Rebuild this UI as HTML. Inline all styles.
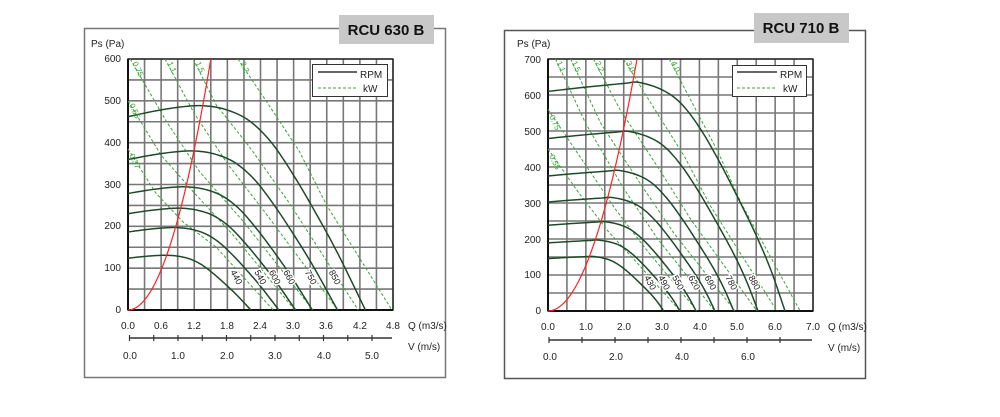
<!DOCTYPE html>
<html><head><meta charset="utf-8"><style>
html,body{margin:0;padding:0;background:#fff;}
svg{display:block;font-family:"Liberation Sans",sans-serif;}
</style></head><body>
<svg id="s" width="1000" height="417" viewBox="0 0 1000 417" xmlns="http://www.w3.org/2000/svg">
<rect width="1000" height="417" fill="#fff"/>
<rect x="84.5" y="28.5" width="361" height="349" fill="none" stroke="#777" stroke-width="1.5"/>
<rect x="339" y="15" width="95" height="29" fill="#c8c8c8"/>
<text x="386" y="35" font-size="15" font-weight="bold" text-anchor="middle" fill="#111">RCU 630 B</text>
<rect x="504.5" y="30.5" width="361" height="348" fill="none" stroke="#555" stroke-width="1.5"/>
<rect x="754" y="13" width="95" height="30" fill="#c8c8c8"/>
<text x="801" y="33" font-size="15" font-weight="bold" text-anchor="middle" fill="#111">RCU 710 B</text>
<g id="g1"></g>
<g id="g2"></g>
<g font-size="10" fill="#222">
<text x="91" y="47">Ps (Pa)</text>
<g text-anchor="end">
<text x="121" y="62">600</text><text x="121" y="104">500</text><text x="121" y="146">400</text>
<text x="121" y="188">300</text><text x="121" y="229">200</text><text x="121" y="271">100</text><text x="121" y="313">0</text>
</g>
<g text-anchor="middle">
<text x="128" y="329">0.0</text><text x="161" y="329">0.6</text><text x="194" y="329">1.2</text><text x="227" y="329">1.8</text>
<text x="260" y="329">2.4</text><text x="293" y="329">3.0</text><text x="326" y="329">3.6</text><text x="360" y="329">4.2</text><text x="393" y="329">4.8</text>
<text x="130" y="359">0.0</text><text x="178" y="359">1.0</text><text x="227" y="359">2.0</text><text x="275" y="359">3.0</text><text x="324" y="359">4.0</text><text x="372" y="359">5.0</text>
</g>
<text x="408" y="329">Q (m3/s)</text>
<text x="408" y="350">V (m/s)</text>
<text x="517" y="47">Ps (Pa)</text>
<g text-anchor="end">
<text x="541" y="63">700</text><text x="541" y="99">600</text><text x="541" y="135">500</text><text x="541" y="171">400</text>
<text x="541" y="207">300</text><text x="541" y="243">200</text><text x="541" y="278">100</text><text x="541" y="314">0</text>
</g>
<g text-anchor="middle">
<text x="548" y="330">0.0</text><text x="586" y="330">1.0</text><text x="624" y="330">2.0</text><text x="662" y="330">3.0</text>
<text x="700" y="330">4.0</text><text x="737" y="330">5.0</text><text x="775" y="330">6.0</text><text x="813" y="330">7.0</text>
<text x="550" y="360">0.0</text><text x="616" y="360">2.0</text><text x="682" y="360">4.0</text><text x="748" y="360">6.0</text>
</g>
<text x="828" y="330">Q (m3/s)</text>
<text x="828" y="351">V (m/s)</text>
</g>
<rect x="312.5" y="64.5" width="75" height="32" fill="#fff" stroke="#333"/>
<line x1="318" y1="72" x2="357" y2="72" stroke="#333" stroke-width="1.5"/>
<line x1="318" y1="88" x2="357" y2="88" stroke="#3a3" stroke-width="1" stroke-dasharray="3,2"/>
<text x="360" y="78" font-size="10" fill="#222">RPM</text><text x="363" y="92" font-size="10" fill="#222">kW</text>
<rect x="732.5" y="65.5" width="74" height="31" fill="#fff" stroke="#333"/>
<line x1="737" y1="72" x2="777" y2="72" stroke="#333" stroke-width="1.5"/>
<line x1="737" y1="88" x2="777" y2="88" stroke="#3a3" stroke-width="1" stroke-dasharray="3,2"/>
<text x="780" y="78" font-size="10" fill="#222">RPM</text><text x="783" y="92" font-size="10" fill="#222">kW</text>
</svg>
<script>
var NS="http://www.w3.org/2000/svg";
function el(g,t,a){var e=document.createElementNS(NS,t);for(var k in a)e.setAttribute(k,a[k]);g.appendChild(e);return e;}
function cr(pts,n){var out=[];for(var i=0;i<pts.length-1;i++){var p0=pts[Math.max(0,i-1)],p1=pts[i],p2=pts[i+1],p3=pts[Math.min(pts.length-1,i+2)];for(var t=0;t<n;t++){var s=t/n,s2=s*s,s3=s2*s;var f=function(a,b,c,d){return 0.5*((2*b)+(-a+c)*s+(2*a-5*b+4*c-d)*s2+(-a+3*b-3*c+d)*s3);};out.push([f(p0[0],p1[0],p2[0],p3[0]),f(p0[1],p1[1],p2[1],p3[1])]);}}out.push(pts[pts.length-1]);return out;}
function chart(g,C){
 var X=function(q){return C.x0+(q/C.qmax)*(C.x1-C.x0)};
 var Y=function(p){return C.y0-(p/C.pmax)*(C.y0-C.y1)};
 for(var q=0;q<=C.qmax+1e-9;q+=C.qstep){el(g,'line',{x1:X(q),y1:C.y1,x2:X(q),y2:C.y0,stroke:'#777','stroke-width':1.6});}
 for(var p=0;p<=C.pmax;p+=50){el(g,'line',{x1:C.x0,y1:Y(p),x2:C.x1,y2:Y(p),stroke:'#777','stroke-width':1.6});}
 el(g,'rect',{x:C.x0,y:C.y1,width:C.x1-C.x0,height:C.y0-C.y1,fill:'none',stroke:'#222','stroke-width':1.4});
 el(g,'line',{x1:C.x0,y1:C.y0,x2:C.x1,y2:C.y0,stroke:'#111','stroke-width':2});
 el(g,'line',{x1:C.x0,y1:C.y0,x2:C.x0,y2:C.y1,stroke:'#111','stroke-width':2});
 C.kw.forEach(function(k){var pts=k.map(function(a){return X(a[0])+','+Y(a[1])}).join(' ');el(g,'polyline',{points:pts,fill:'none',stroke:'#3aa33a','stroke-width':1,'stroke-dasharray':'3,2'});});
 C.rpm.forEach(function(n){var r=n/C.nb;var pts=cr(C.base.map(function(a){return [a[0]*r,a[1]*r*r]}),8);
  el(g,'polyline',{points:pts.map(function(a){return X(a[0])+','+Y(a[1])}).join(' '),fill:'none',stroke:'#1f4a2a','stroke-width':1.5});
  var qe=C.base[C.base.length-1][0]*r; var lx=X(qe*0.86), ly=Y(75);
  var t=el(g,'text',{x:lx,y:ly,'font-size':9,fill:'#222','text-anchor':'middle',transform:'rotate(62 '+lx+' '+ly+')',stroke:'#fff','stroke-width':3,'paint-order':'stroke'});t.textContent=n;
 });
 var rp=[];for(var i=0;i<=40;i++){var q=C.rq*i/40;rp.push(X(q)+','+Y(C.pmax*(q/C.rq)*(q/C.rq)));}
 el(g,'polyline',{points:rp.join(' '),fill:'none',stroke:'#f22','stroke-width':1.2});
 el(g,'line',{x1:C.vx0,y1:C.vy,x2:C.vx1,y2:C.vy,stroke:'#333','stroke-width':1.5});
 for(var v=0;v<=C.vmax+1e-9;v+=C.vstep){var xx=C.vx0+v*C.vpx;el(g,'line',{x1:xx,y1:C.vy-3,x2:xx,y2:C.vy+3,stroke:'#333','stroke-width':1.2});}
 C.kl.forEach(function(l){var t=el(g,'text',{x:X(l[1]),y:Y(l[2]),'font-size':8,fill:'#3a3',transform:'rotate(65 '+X(l[1])+' '+Y(l[2])+')'});t.textContent=l[0];});
}
chart(document.getElementById('g1'),{x0:128,x1:393,y0:310,y1:59,qmax:4.8,pmax:600,qstep:0.3,nb:850,
 base:[[0,462],[0.5,476],[1.0,486],[1.4,488],[1.8,478],[2.2,452],[2.6,400],[3.0,322],[3.4,232],[3.8,135],[4.3,0]],
 rpm:[440,540,600,660,750,850],rq:1.5,
 kw:[[[0,385],[0.5,280],[1.0,210],[1.6,150],[2.63,0]],[[0,500],[0.6,370],[1.2,280],[1.9,180],[3.02,0]],[[0.04,600],[0.7,450],[1.3,330],[2.1,210],[3.35,0]],[[0.67,600],[1.2,470],[1.8,350],[2.5,230],[3.8,0]],[[1.18,600],[1.6,490],[2.2,390],[2.9,260],[4.17,0]],[[1.99,600],[2.5,500],[3.1,380],[3.6,250],[4.78,0]]],
 kl:[['0.37',0.02,370],['0.55',0.02,490],['0.75',0.08,590],['1.1',0.71,590],['1.5',1.22,590],['2.2',2.03,590]],
 vx0:129.5,vx1:392,vy:338,vpx:48.5,vstep:0.5,vmax:5.4});
chart(document.getElementById('g2'),{x0:548,x1:813,y0:311,y1:59,qmax:7,pmax:700,qstep:0.5,nb:880,
 base:[[0,610],[1,622],[2,632],[2.4,635],[3,615],[3.5,578],[4,510],[4.5,420],[5,318],[5.5,210],[5.9,110],[6.26,0]],
 rpm:[430,490,550,620,690,780,880],rq:2.35,
 kw:[[[0,450],[0.8,330],[1.6,220],[2.3,140],[3.49,0]],[[0,560],[0.9,420],[1.8,280],[2.6,170],[3.94,0]],[[0.2,700],[1.0,520],[2.0,340],[2.9,200],[4.41,0]],[[0.6,700],[1.4,520],[2.4,360],[3.3,220],[4.94,0]],[[1.2,700],[1.9,560],[2.9,400],[3.8,250],[5.52,0]],[[2.0,700],[2.7,580],[3.6,430],[4.3,290],[6.05,0]],[[3.2,700],[3.8,580],[4.5,440],[5.1,300],[6.66,0]]],
 kl:[['0.55',0.03,430],['0.75',0.03,540],['1.1',0.22,690],['1.5',0.62,690],['2.2',1.24,690],['3.0',2.06,690],['4.0',3.25,690]],
 vx0:549,vx1:812,vy:340,vpx:33,vstep:1,vmax:7.9});
</script>
</body></html>
